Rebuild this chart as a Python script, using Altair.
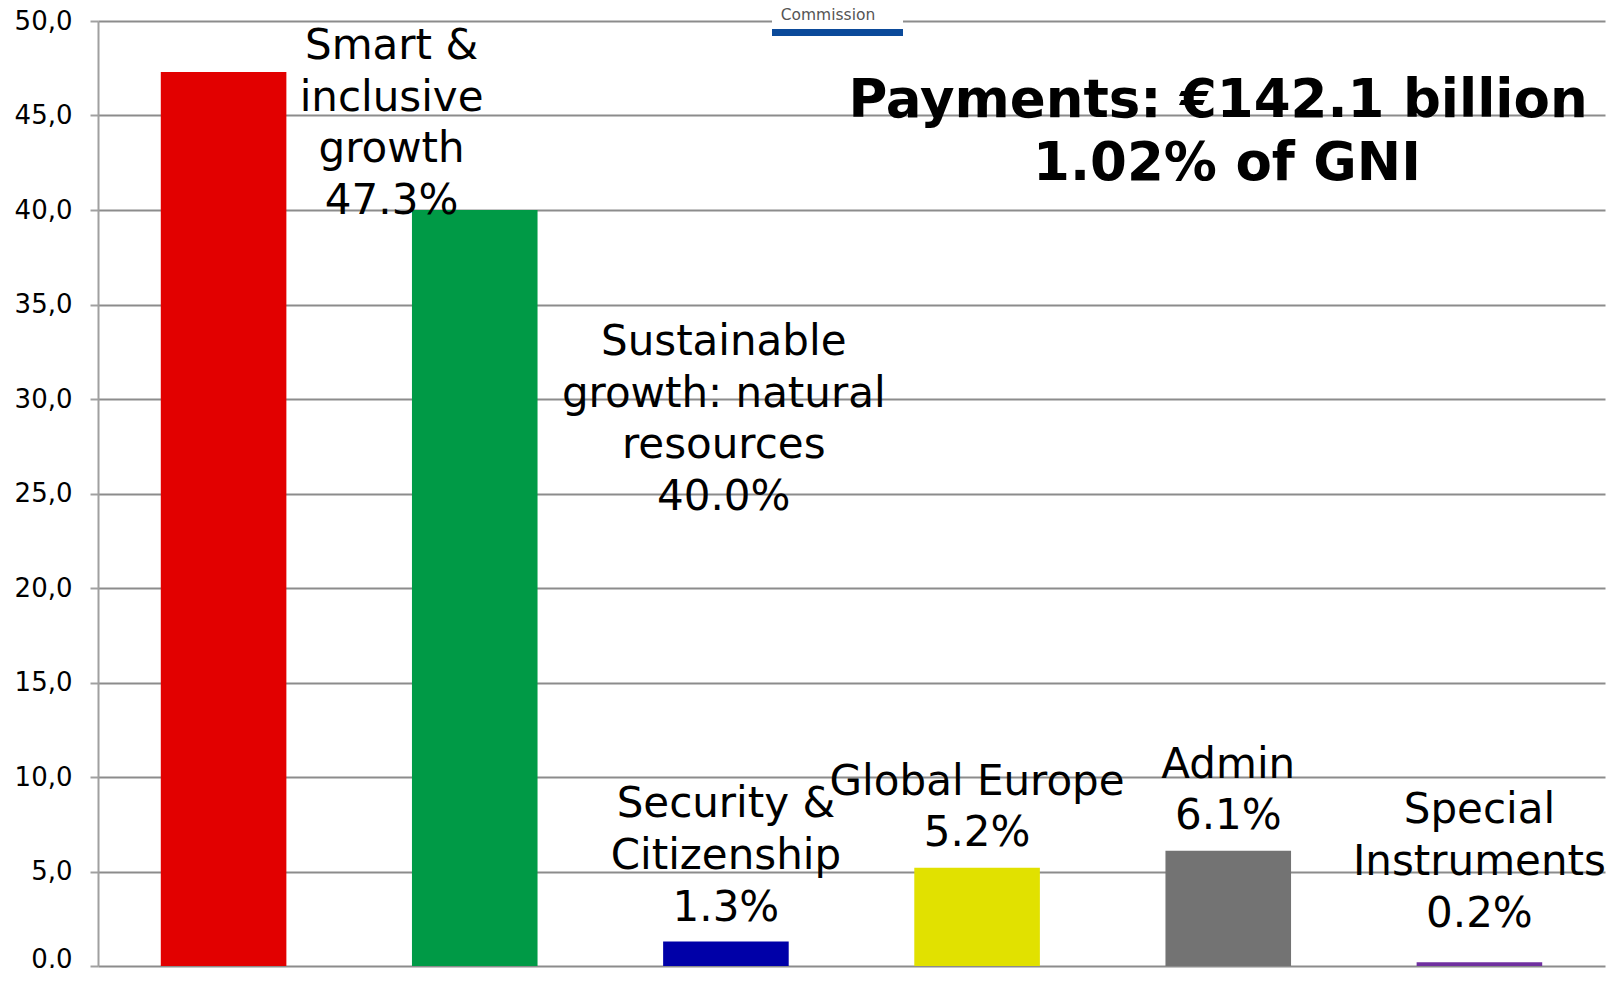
import altair as alt
import pandas as pd

# ---- data ----
CATEGORIES = [
    "Smart & inclusive growth",
    "Sustainable growth: natural resources",
    "Security & Citizenship",
    "Global Europe",
    "Admin",
    "Special Instruments",
]
VALUES = [47.3, 40.0, 1.3, 5.2, 6.1, 0.2]
LABEL_LINES = [
    ["Smart &", "inclusive", "growth", "47.3%"],
    ["Sustainable", "growth: natural", "resources", "40.0%"],
    ["Security &", "Citizenship", "1.3%"],
    ["Global Europe", "5.2%"],
    ["Admin", "6.1%"],
    ["Special", "Instruments", "0.2%"],
]
COLORS = ["#E20000", "#009A46", "#0000A8", "#E1E100", "#737373", "#7030A0"]
Y_TICKS = [0, 5, 10, 15, 20, 25, 30, 35, 40, 45, 50]
TITLE_LINES = ["Payments: \u20ac142.1 billion", "1.02% of GNI"]
LOGO_TEXT = ["Commission"]

# label offsets (style, pixels) relative to the bar top / band centre
LABEL_DX = [168, 249, 0, 0, 0, 0]
LABEL_DY = [-13, 145, -124, -73, -73, -139]

df = pd.DataFrame({
    "cat": CATEGORIES,
    "value": VALUES,
    "label": ["\n".join(l) for l in LABEL_LINES],
})

FONT = "DejaVu Sans"
W, H = 1507, 945

x_enc = alt.X("cat:N", sort=CATEGORIES,
              scale=alt.Scale(domain=CATEGORIES, paddingInner=0.5, paddingOuter=0.25),
              axis=None)
y_enc = alt.Y("value:Q",
              scale=alt.Scale(domain=[0, 50], nice=False),
              axis=alt.Axis(values=Y_TICKS, title=None,
                            labelExpr="replace(format(datum.value, '.1f'), '.', ',')",
                            labelFont=FONT, labelFontSize=26, labelColor="#000000",
                            labelPadding=18, labelFlush=False, labelOverlap=False,
                            labelOffset=alt.condition("datum.value === 0", alt.value(-7), alt.value(0)),
                            tickSize=8, tickColor="#A0A0A0", tickWidth=2,
                            domainColor="#A0A0A0", domainWidth=2,
                            gridColor="#8C8C8C", gridWidth=2))

base = alt.Chart(df)

bars = base.mark_bar().encode(
    x=x_enc,
    y=y_enc,
    color=alt.Color("cat:N", scale=alt.Scale(domain=CATEGORIES, range=COLORS), legend=None),
)

layers = [bars]
for i, c in enumerate(CATEGORIES):
    t = base.transform_filter(alt.datum.cat == c).mark_text(
        font=FONT, fontSize=42, lineHeight=51.7, lineBreak="\n",
        align="center", baseline="alphabetic", color="#000000",
        dx=LABEL_DX[i], dy=LABEL_DY[i],
    ).encode(x=x_enc, y=alt.Y("value:Q"), text="label:N")
    layers.append(t)

one = pd.DataFrame({"k": [0]})

# partial logo at the top (white box hiding the grid line, caption and blue bar)
logo_box = alt.Chart(one).mark_rect(color="white").encode(
    x=alt.value(674), x2=alt.value(805), y=alt.value(-13), y2=alt.value(8))
logo_bar = alt.Chart(one).mark_rect(color="#0B4A9A").encode(
    x=alt.value(674), x2=alt.value(805), y=alt.value(8), y2=alt.value(15))
logo_text = alt.Chart(pd.DataFrame({"t": LOGO_TEXT})).mark_text(
    font=FONT, fontSize=15.5, color="#555555", align="center", baseline="alphabetic"
).encode(x=alt.value(730), y=alt.value(-1.5), text="t:N")

title1 = alt.Chart(pd.DataFrame({"t": [TITLE_LINES[0]]})).mark_text(
    font=FONT, fontWeight="bold", fontSize=53, color="#000000",
    align="center", baseline="alphabetic"
).encode(x=alt.value(1120), y=alt.value(96), text="t:N")
title2 = alt.Chart(pd.DataFrame({"t": [TITLE_LINES[1]]})).mark_text(
    font=FONT, fontWeight="bold", fontSize=53, color="#000000",
    align="center", baseline="alphabetic"
).encode(x=alt.value(1129), y=alt.value(159), text="t:N")

chart = alt.layer(*layers, logo_box, logo_bar, logo_text, title1, title2).properties(
    width=W, height=H,
    autosize=alt.AutoSizeParams(type="none"),
    padding={"left": 90, "top": 13, "right": 9, "bottom": 2},
    background="white",
).configure_view(stroke=None)

chart.save("out.html", embed_options={"renderer": "svg", "actions": False})
